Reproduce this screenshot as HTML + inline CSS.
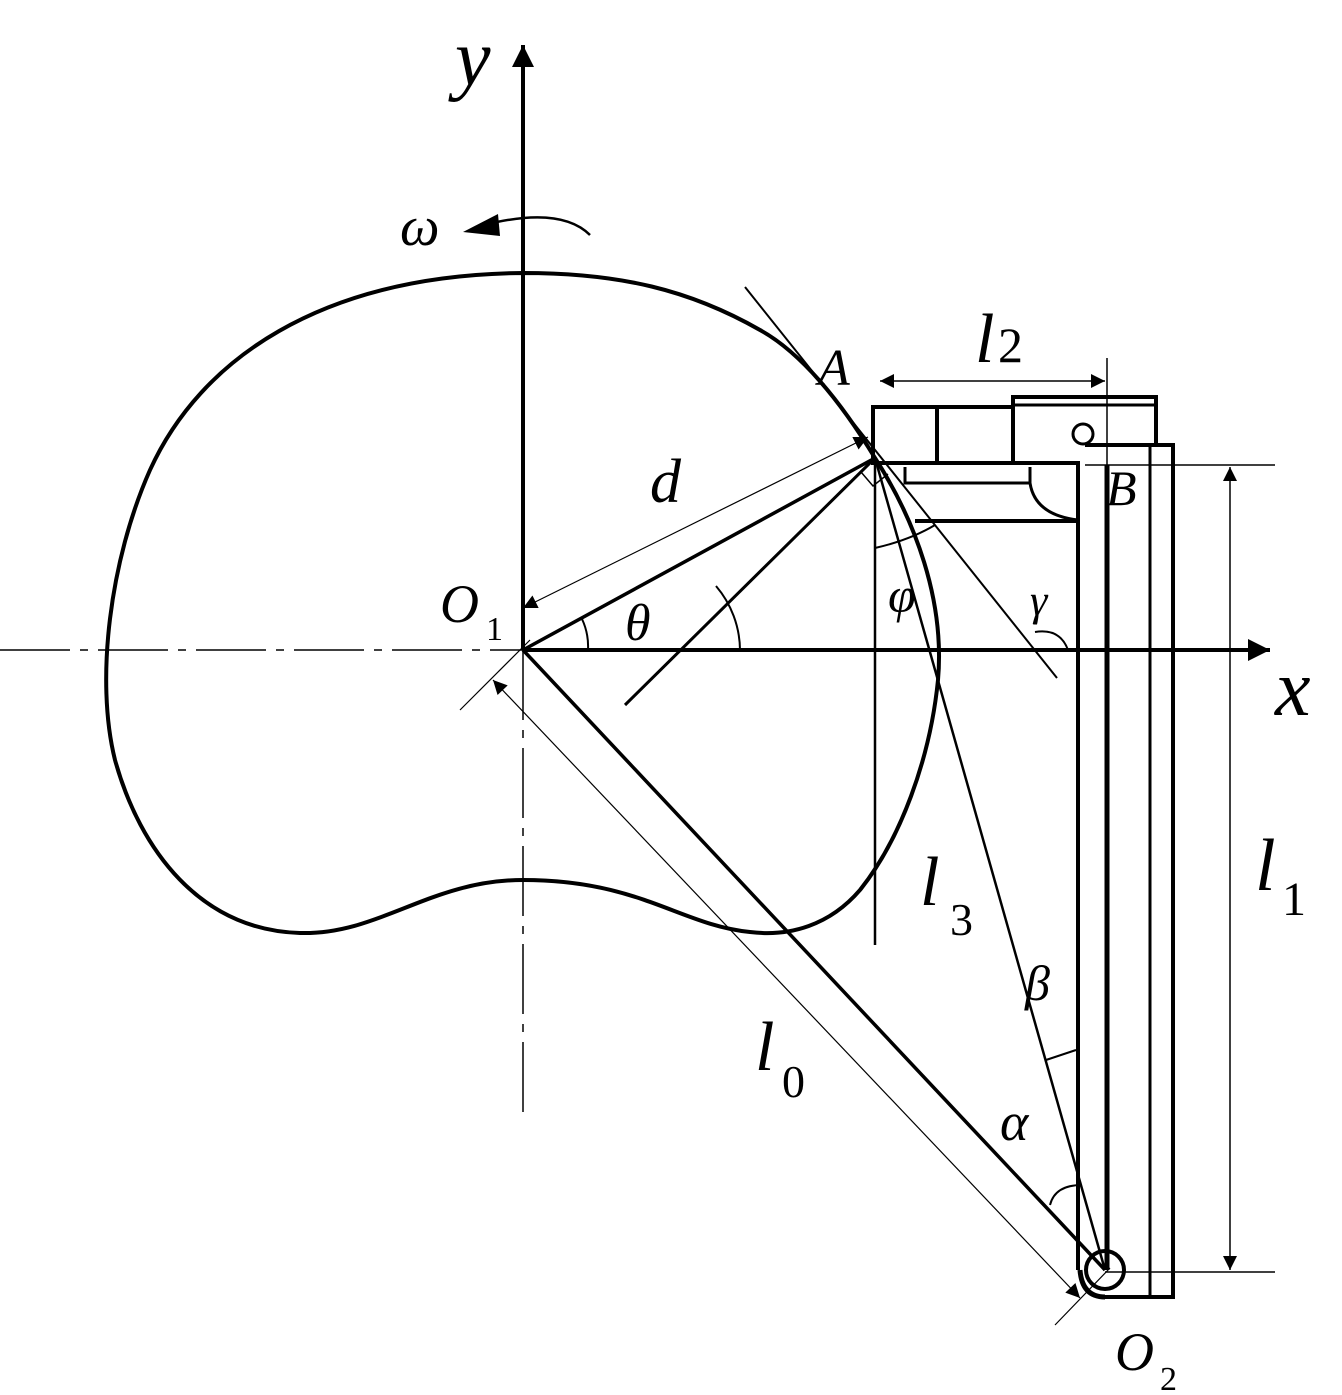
<!DOCTYPE html>
<html><head><meta charset="utf-8"><style>
html,body{margin:0;padding:0;background:#fff}
svg{display:block}
text{font-family:"Liberation Serif",serif;font-style:italic;fill:#000}
text.n{font-style:normal}
</style></head><body>
<svg width="1342" height="1395" viewBox="0 0 1342 1395" xmlns="http://www.w3.org/2000/svg">
<defs>
<marker id="ar" viewBox="0 0 10 10" refX="10" refY="5" markerWidth="24" markerHeight="14" orient="auto-start-reverse" markerUnits="userSpaceOnUse"><path d="M0,0 L10,5 L0,10 z" fill="#000"/></marker>
<marker id="big" viewBox="0 0 10 10" refX="10" refY="5" markerWidth="36" markerHeight="22" orient="auto" markerUnits="userSpaceOnUse"><path d="M0,0 L10,5 L0,10 z" fill="#000"/></marker>
</defs>
<g stroke="#000" fill="none">
<line x1="523" y1="650" x2="523" y2="45" stroke-width="4" marker-end="url(#big)"/>
<line x1="523" y1="650" x2="1270" y2="650" stroke-width="4" marker-end="url(#big)"/>
<line x1="0" y1="650" x2="523" y2="650" stroke-width="1.5" stroke-dasharray="70,10,8,10"/>
<line x1="523" y1="650" x2="523" y2="1120" stroke-width="1.5" stroke-dasharray="70,10,8,10"/>
<path d="M590,235 Q560,205 480,226" stroke-width="2.5"/>
<path d="M463,232 L498,214 L500,236 z" fill="#000" stroke="none"/>
<path d="M523,273 C620,273 690,290 760,330 C800,352 840,400 875,458 C915,520 945,600 938,680 C930,760 900,840 860,890 C830,925 790,937 750,932 C680,925 640,880 523,880 C430,880 380,935 300,933 C200,930 140,850 115,760 C95,680 110,560 150,470 C200,360 320,275 523,273 Z" stroke-width="4"/>
<line x1="745" y1="287" x2="1057" y2="678" stroke-width="2"/>
<line x1="875" y1="458" x2="625" y2="705" stroke-width="3"/>
<line x1="523" y1="650" x2="875" y2="458" stroke-width="3.5"/>
<line x1="523" y1="608" x2="868" y2="437" stroke-width="1.2" marker-start="url(#ar)" marker-end="url(#ar)"/>
<path d="M588,650 A65,65 0 0 0 582,619" stroke-width="2"/>
<path d="M740,650 A100,100 0 0 0 716,586" stroke-width="2"/>
<path d="M861,472 L873,486 L888,474" stroke-width="1.5"/>
<line x1="523" y1="650" x2="1105" y2="1270" stroke-width="3.5"/>
<line x1="493" y1="680" x2="1080" y2="1298" stroke-width="1.2" marker-start="url(#ar)" marker-end="url(#ar)"/>
<line x1="460" y1="710" x2="530" y2="640" stroke-width="1.2"/>
<line x1="1055" y1="1325" x2="1110" y2="1268" stroke-width="1.2"/>
<line x1="875" y1="458" x2="1105" y2="1270" stroke-width="2.5"/>
<line x1="875" y1="458" x2="875" y2="945" stroke-width="2.5"/>
<path d="M875,548 Q910,540 935,525" stroke-width="2"/>
<path d="M1035,632 Q1060,628 1068,650" stroke-width="2"/>
<path d="M1046,1060 L1076,1050" stroke-width="2"/>
<path d="M1050,1205 Q1055,1185 1082,1185" stroke-width="2"/>
<rect x="873" y="407" width="140" height="56" stroke-width="4"/>
<line x1="937" y1="407" x2="937" y2="463" stroke-width="4"/>
<path d="M1013,463 L1013,397 L1156,397 L1156,445" stroke-width="4"/>
<line x1="1013" y1="405" x2="1156" y2="405" stroke-width="3"/>
<circle cx="1083" cy="434" r="10" stroke-width="3"/>
<line x1="873" y1="463" x2="1080" y2="463" stroke-width="4"/>
<path d="M905,467 L905,483 L1030,483 L1030,467" stroke-width="3"/>
<path d="M1030,483 Q1035,515 1078,520" stroke-width="3"/>
<line x1="915" y1="521" x2="1078" y2="521" stroke-width="4"/>
<path d="M1085,445 L1173,445 L1173,1297 L1100,1297" stroke-width="4"/>
<line x1="1078" y1="463" x2="1078" y2="1270" stroke-width="4"/>
<line x1="1107" y1="465" x2="1107" y2="1270" stroke-width="5"/>
<line x1="1150" y1="445" x2="1150" y2="1297" stroke-width="3"/>
<circle cx="1105" cy="1270" r="19" stroke-width="4"/>
<path d="M1080,1270 Q1082,1297 1105,1297" stroke-width="5"/>
<line x1="1107" y1="358" x2="1107" y2="465" stroke-width="1.5"/>
<line x1="880" y1="381" x2="1105" y2="381" stroke-width="1.5" marker-start="url(#ar)" marker-end="url(#ar)"/>
<line x1="1085" y1="465" x2="1275" y2="465" stroke-width="1.5"/>
<line x1="1105" y1="1272" x2="1275" y2="1272" stroke-width="1.5"/>
<line x1="1230" y1="467" x2="1230" y2="1270" stroke-width="1.5" marker-start="url(#ar)" marker-end="url(#ar)"/>
</g>
<text x="455" y="85" font-size="80">y</text>
<text x="1275" y="715" font-size="80">x</text>
<text x="400" y="245" font-size="56">ω</text>
<text x="818" y="385" font-size="52">A</text>
<text x="975" y="362" font-size="70">l</text><text class="n" x="998" y="362" font-size="50">2</text>
<text x="1106" y="505" font-size="50">B</text>
<text x="650" y="502" font-size="62">d</text>
<text x="440" y="622" font-size="54">O</text><text class="n" x="486" y="640" font-size="34">1</text>
<text x="625" y="640" font-size="52">θ</text>
<text x="888" y="612" font-size="50">φ</text>
<text x="1030" y="615" font-size="44">γ</text>
<text x="920" y="905" font-size="70">l</text><text class="n" x="950" y="935" font-size="46">3</text>
<text x="1025" y="1000" font-size="50">β</text>
<text x="755" y="1070" font-size="70">l</text><text class="n" x="782" y="1097" font-size="46">0</text>
<text x="1000" y="1140" font-size="54">α</text>
<text x="1255" y="890" font-size="74">l</text><text class="n" x="1282" y="915" font-size="48">1</text>
<text x="1115" y="1370" font-size="54">O</text><text class="n" x="1160" y="1390" font-size="34">2</text>
</svg>
</body></html>
